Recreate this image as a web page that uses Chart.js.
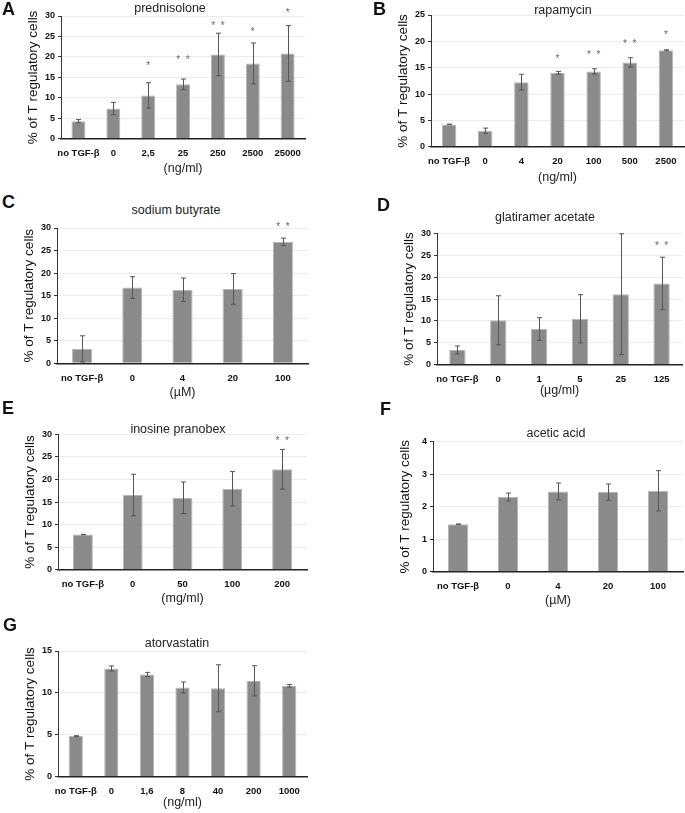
<!DOCTYPE html>
<html>
<head>
<meta charset="utf-8">
<script src="https://cdn.jsdelivr.net/npm/chart.js@4.4.1/dist/chart.umd.min.js"></script>
<style>
  body { margin: 0; background: #fff; }
  #fig { position: relative; width: 685px; height: 813px; overflow: hidden; font-family: "Liberation Sans", Arial, sans-serif; }
  #fig canvas { position: absolute; }
  .letter { position: absolute; font-weight: bold; font-size: 18px; line-height: 1; color: #111; }
  .title { position: absolute; font-size: 12.5px; color: #222; transform: translate(-50%, -50%); white-space: nowrap; }
</style>
</head>
<body>
<div id="fig"></div>
<script>
// A - prednisolone
const labelsA = ["no TGF-β", "0", "2,5", "25", "250", "2500", "25000"];
const valuesA = [4.3, 7.4, 10.6, 13.3, 20.6, 18.4, 20.85];
const errorsA = [0.4, 1.5, 3.1, 1.3, 5.2, 5.0, 6.8];
const starsA = ["", "", "*", "* *", "* *", "*", "*"];
const starYA = [null, null, 18.1, 19.8, 28.0, 26.4, 31.1];

// B - rapamycin
const labelsB = ["no TGF-β", "0", "4", "20", "100", "500", "2500"];
const valuesB = [4.25, 3.05, 12.25, 14.05, 14.3, 16.0, 18.3];
const errorsB = [0.05, 0.5, 1.5, 0.25, 0.5, 0.9, 0.1];
const starsB = ["", "", "", "*", "* *", "* *", "*"];
const starYB = [null, null, null, 17.0, 17.7, 19.9, 21.5];

// C - sodium butyrate
const labelsC = ["no TGF-β", "0", "4", "20", "100"];
const valuesC = [3.2, 16.8, 16.3, 16.5, 26.95];
const errorsC = [2.9, 2.4, 2.6, 3.4, 0.8];
const starsC = ["", "", "", "", "* *"];
const starYC = [null, null, null, null, 30.7];

// D - glatiramer acetate
const labelsD = ["no TGF-β", "0", "1", "5", "25", "125"];
const valuesD = [3.4, 10.15, 8.15, 10.5, 16.1, 18.55];
const errorsD = [0.9, 5.6, 2.6, 5.5, 13.8, 6.0];
const starsD = ["", "", "", "", "", "* *"];
const starYD = [null, null, null, null, null, 27.6];

// E - inosine pranobex
const labelsE = ["no TGF-β", "0", "50", "100", "200"];
const valuesE = [7.8, 16.55, 15.95, 17.95, 22.25];
const errorsE = [0.05, 4.6, 3.5, 3.8, 4.4];
const starsE = ["", "", "", "", "* *"];
const starYE = [null, null, null, null, 29.0];

// F - acetic acid
const labelsF = ["no TGF-β", "0", "4", "20", "100"];
const valuesF = [1.46, 2.30, 2.47, 2.45, 2.49];
const errorsF = [0.01, 0.12, 0.26, 0.25, 0.62];

// G - atorvastatin
const labelsG = ["no TGF-β", "0", "1,6", "8", "40", "200", "1000"];
const valuesG = [4.85, 12.92, 12.2, 10.65, 10.56, 11.45, 10.85];
const errorsG = [0.05, 0.3, 0.25, 0.65, 2.8, 1.8, 0.15];

const yTitle = "% of T regulatory cells";

const panels = [
  { letter: "A", title: "prednisolone", unit: "(ng/ml)", labels: labelsA, values: valuesA, errors: errorsA, stars: starsA, starY: starYA, max: 30, step: 5,
    L: 61, R: 308, T: 16, B: 138.3, unitOff: 30, tx: 170, ty: 8, lx: 2, ly: 2 },
  { letter: "B", title: "rapamycin", unit: "(ng/ml)", labels: labelsB, values: valuesB, errors: errorsB, stars: starsB, starY: starYB, max: 25, step: 5,
    L: 431, R: 684, T: 15, B: 146, unitOff: 31, tx: 563, ty: 10, lx: 373, ly: 2 },
  { letter: "C", title: "sodium butyrate", unit: "(µM)", labels: labelsC, values: valuesC, errors: errorsC, stars: starsC, starY: starYC, max: 30, step: 5,
    L: 57, R: 308, T: 228, B: 363, unitOff: 29.5, tx: 176, ty: 210, lx: 2, ly: 195 },
  { letter: "D", title: "glatiramer acetate", unit: "(µg/ml)", labels: labelsD, values: valuesD, errors: errorsD, stars: starsD, starY: starYD, max: 30, step: 5,
    L: 437, R: 682, T: 233.3, B: 364.3, unitOff: 26, tx: 545, ty: 217, lx: 377, ly: 198 },
  { letter: "E", title: "inosine pranobex", unit: "(mg/ml)", labels: labelsE, values: valuesE, errors: errorsE, stars: starsE, starY: starYE, max: 30, step: 5,
    L: 58, R: 307, T: 434.3, B: 569, unitOff: 29, tx: 178, ty: 429, lx: 2, ly: 401 },
  { letter: "F", title: "acetic acid", unit: "(µM)", labels: labelsF, values: valuesF, errors: errorsF, stars: null, starY: null, max: 4, step: 1,
    L: 433, R: 683, T: 441.7, B: 571, unitOff: 29, tx: 556, ty: 433, lx: 380, ly: 402 },
  { letter: "G", title: "atorvastatin", unit: "(ng/ml)", labels: labelsG, values: valuesG, errors: errorsG, stars: null, starY: null, max: 15, step: 5,
    L: 58, R: 307, T: 651, B: 776, unitOff: 26, tx: 177, ty: 643, lx: 3, ly: 618 },
];

// error bars + significance stars
const errBars = {
  id: "errbars",
  afterDatasetsDraw(chart, args, opts) {
    const { ctx } = chart;
    const y = chart.scales.y;
    const meta = chart.getDatasetMeta(0);
    const vals = chart.data.datasets[0].data;
    ctx.save();
    ctx.strokeStyle = "#555";
    ctx.lineWidth = 1;
    meta.data.forEach((bar, i) => {
      const x = Math.round(bar.x) + 0.5;
      const top = y.getPixelForValue(vals[i] + opts.errors[i]);
      const bot = y.getPixelForValue(vals[i] - opts.errors[i]);
      ctx.beginPath();
      ctx.moveTo(x, top); ctx.lineTo(x, bot);
      ctx.moveTo(x - 2.5, top); ctx.lineTo(x + 2.5, top);
      ctx.moveTo(x - 2.5, bot); ctx.lineTo(x + 2.5, bot);
      ctx.stroke();
    });
    if (opts.stars) {
      ctx.fillStyle = "#666";
      ctx.font = "10px 'Liberation Sans', Arial, sans-serif";
      ctx.textAlign = "center";
      ctx.textBaseline = "middle";
      meta.data.forEach((bar, i) => {
        if (!opts.stars[i]) return;
        ctx.fillText(opts.stars[i].replace(" ", "  "), bar.x, y.getPixelForValue(opts.starY[i]) + 2);
      });
    }
    ctx.restore();
  }
};

const fig = document.getElementById("fig");
const tickFamily = "'Liberation Sans Narrow', 'Liberation Sans', Arial, sans-serif";

panels.forEach(p => {
  const yW = 36, padL = 2, padT = 10, padR = 2, padB = 2;
  const xH = p.unitOff + 7.2;
  const left = Math.round(p.L - yW - padL);
  const top = Math.round(p.T - padT);
  const width = Math.round(p.R + padR) - left;
  const height = Math.ceil(p.B + xH + padB) - top;

  const cv = document.createElement("canvas");
  cv.width = width; cv.height = height;
  cv.style.left = left + "px"; cv.style.top = top + "px";
  cv.style.width = width + "px"; cv.style.height = height + "px";
  fig.appendChild(cv);

  new Chart(cv, {
    type: "bar",
    data: {
      labels: p.labels,
      datasets: [{
        data: p.values,
        backgroundColor: "#8a8a8a",
        borderColor: "#b5b5b5",
        borderWidth: 1,
        barPercentage: 0.4,
        categoryPercentage: 1,
      }],
    },
    options: {
      responsive: false,
      animation: false,
      devicePixelRatio: 1,
      layout: { padding: { left: p.L - yW - left, top: p.T - top, right: padR, bottom: padB } },
      plugins: {
        legend: { display: false },
        tooltip: { enabled: false },
        errbars: { errors: p.errors, stars: p.stars, starY: p.starY },
      },
      scales: {
        x: {
          grid: { display: false, drawTicks: false },
          border: { display: true, color: "#222", width: 1.5 },
          ticks: { color: "#111", padding: 9, maxRotation: 0, autoSkip: false, font: { family: tickFamily, size: 9.5, weight: "bold" } },
          title: { display: true, text: p.unit, color: "#222", padding: 0, font: { family: "'Liberation Sans', Arial, sans-serif", size: 12.5 } },
          afterFit(scale) { scale.height = xH; },
        },
        y: {
          min: 0,
          max: p.max,
          grid: { color: "#ebebeb", lineWidth: 1, tickLength: 3, tickColor: "#333" },
          border: { display: true, color: "#333", width: 1 },
          ticks: { stepSize: p.step, color: "#111", padding: 3, font: { family: tickFamily, size: 9, weight: "bold" } },
          title: { display: true, text: yTitle, color: "#111", padding: 0, font: { family: "'Liberation Sans', Arial, sans-serif", size: 13.5 } },
          afterFit(scale) { scale.width = yW; },
        },
      },
    },
    plugins: [errBars],
  });

  const t = document.createElement("div");
  t.className = "title";
  t.textContent = p.title;
  t.style.left = p.tx + "px"; t.style.top = p.ty + "px";
  fig.appendChild(t);

  const l = document.createElement("div");
  l.className = "letter";
  l.textContent = p.letter;
  l.style.left = p.lx + "px"; l.style.top = (p.ly - 2) + "px";
  fig.appendChild(l);
});
</script>
</body>
</html>
